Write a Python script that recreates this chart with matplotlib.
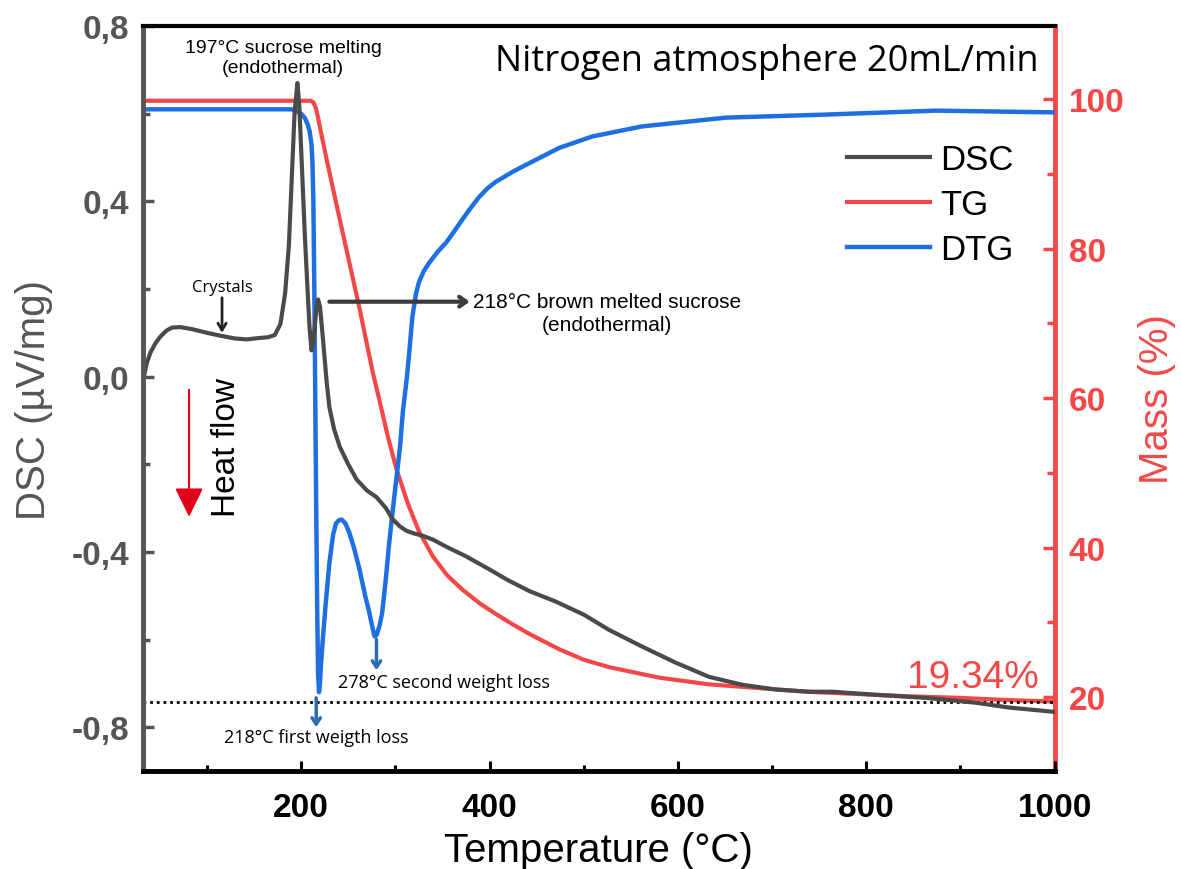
import numpy as np
import matplotlib.pyplot as plt
from matplotlib import font_manager
from matplotlib.ticker import MultipleLocator, FuncFormatter

# DSC curve (µV/mg)
dsc_temp = [32, 36, 40, 45, 50, 57, 63, 72, 85, 100, 115, 130, 142, 155, 165, 172, 178,
            183, 187, 190, 193, 196, 198, 200, 202, 204, 207, 209, 211, 213, 216, 218,
            220, 223, 227, 230, 235, 241, 250, 259, 270, 280, 290, 297, 305, 312, 320,
            329, 340, 354, 375, 400, 420, 443, 470, 500, 527, 562, 598, 633, 668, 704,
            739, 764, 810, 863, 916, 951, 1000]
dsc_val = [-0.01, 0.03, 0.055, 0.075, 0.09, 0.105, 0.112, 0.113, 0.108, 0.1, 0.093,
           0.087, 0.085, 0.088, 0.09, 0.095, 0.12, 0.19, 0.3, 0.45, 0.6, 0.67, 0.62,
           0.52, 0.42, 0.32, 0.19, 0.11, 0.06, 0.08, 0.15, 0.176, 0.16, 0.09, -0.01,
           -0.07, -0.12, -0.16, -0.2, -0.235, -0.26, -0.275, -0.3, -0.325, -0.342,
           -0.352, -0.358, -0.363, -0.372, -0.388, -0.41, -0.44, -0.465, -0.49,
           -0.513, -0.543, -0.578, -0.616, -0.653, -0.685, -0.703, -0.714, -0.719,
           -0.719, -0.726, -0.733, -0.744, -0.755, -0.765]

# TG curve (mass %)
tg_temp = [32, 100, 200, 210, 213, 216, 227, 240, 262, 276, 283, 292, 301, 313, 325, 340,
           355, 371, 390, 407, 425, 443, 474, 500, 527, 580, 633, 686, 739, 792, 845,
           898, 950, 1000]
tg_val = [99.8, 99.8, 99.8, 99.8, 99.6, 98.7, 92, 84.5, 72, 63.5, 59.8, 54.9, 50.6,
          46.0, 42.2, 38.8, 36.3, 34.4, 32.5, 31.1, 29.7, 28.4, 26.4, 25.0, 24.0, 22.6,
          21.7, 21.2, 20.7, 20.4, 20.1, 19.9, 19.6, 19.4]

# DTG curve (drawn on the DSC scale, as in the original)
dtg_temp = [32, 100, 150, 190, 196, 200, 204, 207, 209, 211, 212, 213, 214, 215, 216,
            217, 218, 219, 220, 221, 223, 226, 230, 234, 237, 240, 243, 247, 251, 256,
            262, 268, 272, 276, 278, 280, 283, 286, 290, 293, 297, 301, 305, 308, 312,
            315, 318, 322, 325, 330, 336, 345, 354, 362, 371, 380, 389, 398, 407, 425,
            443, 474, 509, 562, 651, 757, 874, 1000]
dtg_val = [0.61, 0.61, 0.61, 0.61, 0.605, 0.6, 0.59, 0.575, 0.56, 0.53, 0.49, 0.4, 0.2,
           -0.05, -0.3, -0.52, -0.68, -0.72, -0.7, -0.66, -0.6, -0.52, -0.425, -0.36,
           -0.335, -0.328, -0.326, -0.335, -0.355, -0.39, -0.44, -0.5, -0.535, -0.575,
           -0.593, -0.59, -0.57, -0.54, -0.46, -0.39, -0.31, -0.235, -0.16, -0.08,
           -0.007, 0.06, 0.135, 0.19, 0.215, 0.24, 0.26, 0.285, 0.306, 0.33, 0.358,
           0.385, 0.41, 0.43, 0.445, 0.468, 0.488, 0.522, 0.548, 0.571, 0.591, 0.598,
           0.607, 0.603]

residue = 19.34

names = {f.name for f in font_manager.fontManager.ttflist}
narrow = 'Liberation Sans Narrow' if 'Liberation Sans Narrow' in names else 'Liberation Sans'
sans = 'Liberation Sans'
human = 'Open Sans'

c_dsc = '#4a4a4a'
c_tg = '#f44848'
c_dtg = '#1e6fe0'
c_gray = '#555555'

fig = plt.figure(figsize=(11.81, 8.70), dpi=100)
ax1 = fig.add_axes([0.121, 0.1126, 0.772, 0.8563])
ax2 = ax1.twinx()
ax1.set_zorder(ax2.get_zorder() + 1)
ax1.patch.set_visible(False)

l_tg, = ax2.plot(tg_temp, tg_val, color=c_tg, lw=3, label='TG')
l_dtg, = ax1.plot(dtg_temp, dtg_val, color=c_dtg, lw=3.2, label='DTG')
l_dsc, = ax1.plot(dsc_temp, dsc_val, color=c_dsc, lw=3, label='DSC')
ax2.axhline(residue, color='black', lw=2, ls=(0, (1, 1.4)))

ax1.set_xlim(32, 1000)
ax1.set_ylim(-0.9, 0.8)
ax2.set_ylim(10.1, 109.8)

# spines
for s in ['left', 'right', 'top', 'bottom']:
    ax2.spines[s].set_visible(False)
ax2.spines['right'].set_visible(True)
ax2.spines['right'].set_color(c_tg)
ax2.spines['right'].set_linewidth(3.5)
ax1.spines['right'].set_visible(False)
ax1.spines['left'].set_color(c_gray)
ax1.spines['left'].set_linewidth(3.5)
ax1.spines['bottom'].set_color('black')
ax1.spines['bottom'].set_linewidth(3.5)
ax1.spines['top'].set_color('black')
ax1.spines['top'].set_linewidth(3)

# ticks
ax1.xaxis.set_major_locator(MultipleLocator(200))
ax1.xaxis.set_minor_locator(MultipleLocator(100))
ax1.yaxis.set_major_locator(MultipleLocator(0.4))
ax1.yaxis.set_minor_locator(MultipleLocator(0.2))
ax2.yaxis.set_major_locator(MultipleLocator(20))
ax2.yaxis.set_minor_locator(MultipleLocator(10))
ax1.yaxis.set_major_formatter(FuncFormatter(lambda v, p: f'{v:.1f}'.replace('.', ',').replace('-0,0', '0,0')))
ax1.xaxis.set_major_formatter(FuncFormatter(lambda v, p: '' if v < 100 else f'{v:.0f}'))

ax1.tick_params(axis='x', which='major', direction='in', length=7, width=2.2, pad=15,
                top=False, labelsize=24, labelcolor='black')
ax1.tick_params(axis='x', which='minor', direction='in', length=4, width=2.2, top=False)
ax1.tick_params(axis='y', which='major', direction='in', length=8, width=2.5, pad=10,
                right=False, labelsize=24, labelcolor=c_gray, color=c_gray)
ax1.tick_params(axis='y', which='minor', direction='in', length=5, width=2.5, right=False,
                color=c_gray)
ax2.tick_params(axis='y', which='major', direction='in', length=9, width=2.5, pad=10,
                labelsize=24, labelcolor=c_tg, color=c_tg)
ax2.tick_params(axis='y', which='minor', direction='in', length=6, width=2.5, color=c_tg)
for lab in ax1.get_xticklabels() + ax1.get_yticklabels() + ax2.get_yticklabels():
    lab.set_fontfamily(narrow)
    lab.set_fontweight('bold')

ax1.set_xlabel('Temperature (°C)', fontsize=29, family=sans, labelpad=6)
ax1.set_ylabel('DSC (µV/mg)', fontsize=29, family=sans, color=c_gray, labelpad=13)
ax2.set_ylabel('Mass (%)', fontsize=29, family=sans, color=c_tg, labelpad=10)

# legend
ax1.legend(handles=[l_dsc, l_tg, l_dtg], loc='upper left', bbox_to_anchor=(0.772, 0.843),
           frameon=False, borderpad=0, borderaxespad=0, handlelength=2.4,
           handletextpad=0.3, labelspacing=0.35, prop={'family': sans, 'size': 25})

# texts
ax1.text(983, 0.72, 'Nitrogen atmosphere 20mL/min', ha='right', va='center',
         fontsize=26, family=human)
ax2.text(983, 22.7, f'{residue:.2f}%', ha='right', va='center', fontsize=28,
         family=sans, color=c_tg)
ax1.text(181, 0.728, '197°C sucrose melting\n(endothermal)', ha='center', va='center',
         fontsize=14, family=sans, linespacing=1.25)
ax1.text(116, 0.205, 'Crystals', ha='center', va='center', fontsize=12, family=human)
ax1.annotate('', xy=(116, 0.1), xytext=(116, 0.18),
             arrowprops=dict(arrowstyle='->,head_length=0.5,head_width=0.3', lw=2,
                             color='#222222', shrinkA=0, shrinkB=0))
ax1.annotate('', xy=(379, 0.171), xytext=(230, 0.171),
             arrowprops=dict(arrowstyle='->,head_length=0.5,head_width=0.35', lw=3,
                             color='#3a3a3a', shrinkA=0, shrinkB=0))
ax1.text(525, 0.145, '218°C brown melted sucrose\n(endothermal)', ha='center',
         va='center', fontsize=15, family=sans, linespacing=1.25)
ax1.text(352, -0.696, '278°C second weight loss', ha='center', va='center',
         fontsize=13, family=human)
ax1.text(216, -0.822, '218°C first weigth loss', ha='center', va='center',
         fontsize=13, family=human)
for t, y0, y1 in [(216, -0.733, -0.80), (280, -0.6, -0.67)]:
    ax1.annotate('', xy=(t, y1), xytext=(t, y0),
                 arrowprops=dict(arrowstyle='->,head_length=0.45,head_width=0.3', lw=2.5,
                                 color='#2b6cb0', shrinkA=0, shrinkB=0))
ax1.annotate('', xy=(81, -0.32), xytext=(81, -0.03),
             arrowprops=dict(arrowstyle='-|>,head_length=0.45,head_width=0.22', lw=1.5,
                             color='#e3001b', mutation_scale=40, shrinkA=0, shrinkB=0))
ax1.text(121, -0.16, 'Heat flow', rotation=90, ha='center', va='center', fontsize=24,
         family=sans)

fig.savefig('out.png', dpi=100)
